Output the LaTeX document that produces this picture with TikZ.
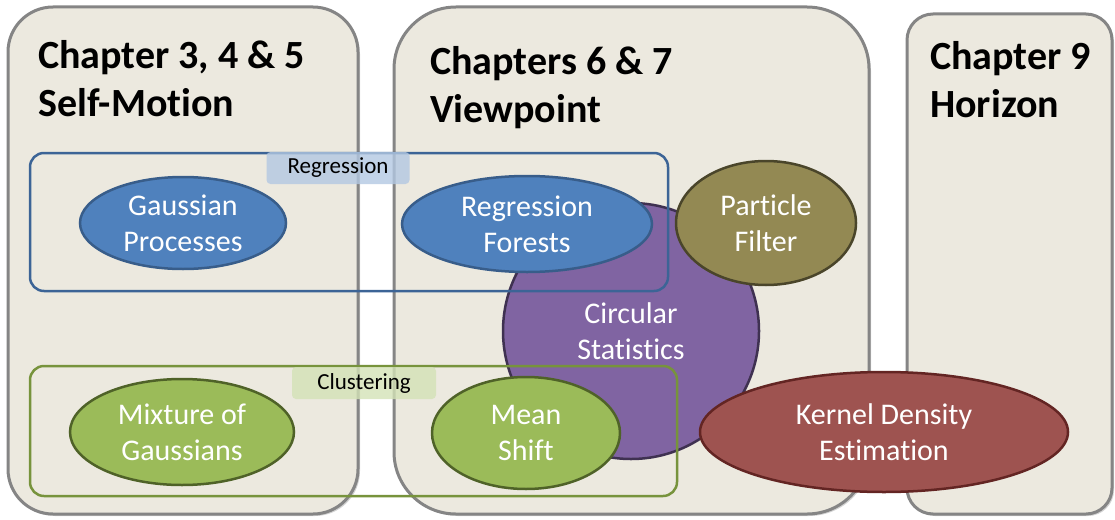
\documentclass[tikz,border=0pt]{standalone}
\usepackage{fontspec}
\setmainfont{Carlito}[Ligatures={NoCommon}]
\usetikzlibrary{shapes.geometric,shadows}
\definecolor{boxfill}{HTML}{ECE9DF}
\definecolor{boxline}{HTML}{858585}
\definecolor{bluef}{HTML}{4F81BD}
\definecolor{bluel}{HTML}{385D8A}
\definecolor{olivef}{HTML}{938953}
\definecolor{olivel}{HTML}{4A452A}
\definecolor{purpf}{HTML}{8064A2}
\definecolor{purpl}{HTML}{3F3151}
\definecolor{greenf}{HTML}{9BBB59}
\definecolor{greenl}{HTML}{4F6228}
\definecolor{redf}{HTML}{9E5350}
\definecolor{redl}{HTML}{632523}
\definecolor{grpblue}{HTML}{3C6496}
\definecolor{grpgreen}{HTML}{77933C}
\definecolor{lblblue}{HTML}{B3C8E2}
\definecolor{lblgreen}{HTML}{D3E2B6}
\tikzset{
  chapbox/.style={draw=boxline, fill=boxfill, line width=3pt,
    drop shadow={shadow xshift=2pt, shadow yshift=-2pt, opacity=0.35}},
  chaptitle/.style={anchor=base west, inner sep=0pt, align=left,
    font=\fontsize{40}{48}\selectfont\bfseries},
  method/.style={ellipse, line width=2.5pt, text=white, align=center,
    inner sep=0pt, font=\fontsize{30}{36}\selectfont},
  grpbox/.style={rounded corners=14pt, line width=2.5pt},
  grplabel/.style={rounded corners=4pt, inner sep=0pt, opacity=0.8,
    text opacity=1, font=\fontsize{23}{27}\selectfont},
}
\begin{document}
\begin{tikzpicture}[x=1pt,y=-1pt]
\useasboundingbox (0,0) rectangle (1115,519);
% chapter boxes
\draw[chapbox, rounded corners=45pt] (8,7) rectangle (358,514);
\draw[chapbox, rounded corners=62pt] (394,7) rectangle (869,514);
\draw[chapbox, rounded corners=26pt] (907,14) rectangle (1112,514);
\node[chaptitle] (t1) at (38,116) {Chapter 3, 4 \& 5\\Self-Motion};
\node[chaptitle] (t2) at (430,122) {Chapters 6 \& 7\\Viewpoint};
\node[chaptitle] (t3) at (930,117) {Chapter 9\\Horizon};
% methods
\node[method, circle, fill=purpf, draw=purpl, minimum size=256pt] (cs) at (631,331) {Circular\\Statistics};
\node[method, fill=bluef, draw=bluel, minimum width=206pt, minimum height=92pt] (gp) at (183,223) {Gaussian\\Processes};
\node[method, fill=bluef, draw=bluel, minimum width=250pt, minimum height=96pt] (rf) at (527,224) {Regression\\Forests};
\node[method, fill=olivef, draw=olivel, minimum width=180pt, minimum height=124pt] (pf) at (766,223) {Particle\\Filter};
\node[method, fill=greenf, draw=greenl, minimum width=224pt, minimum height=106pt] (mog) at (182,432) {Mixture of\\Gaussians};
\node[method, fill=greenf, draw=greenl, minimum width=188pt, minimum height=112pt] (ms) at (526,433) {Mean\\Shift};
\node[method, fill=redf, draw=redl, minimum width=368pt, minimum height=120pt] (kde) at (884,432) {Kernel Density\\Estimation};
% group boxes
\draw[grpbox, draw=grpblue] (30,153) rectangle (668,291);
\draw[grpbox, draw=grpgreen] (30,366) rectangle (677,496);
\node[grplabel, fill=lblblue, minimum width=143pt, minimum height=32pt] (lr) at (338,168) {Regression};
\node[grplabel, fill=lblgreen, minimum width=144pt, minimum height=32pt] (lc) at (364,383) {Clustering};
\end{tikzpicture}
\end{document}
